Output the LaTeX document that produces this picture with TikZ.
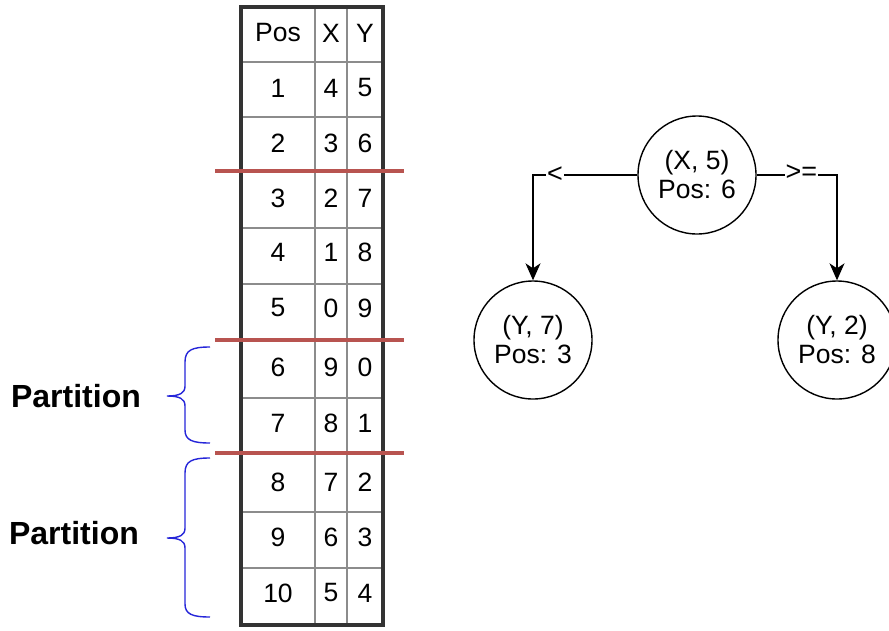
\documentclass[tikz,border=0pt]{standalone}
\usepackage{fontspec}
\setmainfont{Liberation Sans}
\usetikzlibrary{arrows.meta}
\definecolor{redline}{HTML}{B85450}
\definecolor{bracecol}{rgb}{0.15,0.15,0.85}
\definecolor{outerc}{HTML}{333333}
\definecolor{innerc}{HTML}{8C8C8C}
\begin{document}
\begin{tikzpicture}[x=1pt,y=-1pt,
  cell/.style={font=\fontsize{26.5}{26.5}\selectfont, inner sep=0pt},
  tnode/.style={circle, draw, line width=1.4pt, minimum size=118pt, inner sep=0pt, align=center, font=\fontsize{26.5}{29}\selectfont},
  edge/.style={line width=1.3pt, -{Stealth[length=17pt,width=15pt,inset=5pt]}},
  elabel/.style={fill=white, inner sep=1pt, font=\fontsize{27}{27}\selectfont},
  sepline/.style={redline, line width=4pt},
  bracep/.style={bracecol, line width=1.4pt},
  part/.style={font=\bfseries\fontsize{32}{32}\selectfont, inner sep=0pt}]
\useasboundingbox (0,0) rectangle (889,630);
\fill[white] (0,0) rectangle (889,630);
% table inner grid
\foreach \yy in {62,117,172,228,284,340,398,453,512,568}
  \draw[innerc, line width=2pt] (241,\yy) -- (383,\yy);
\foreach \xx in {315,347}
  \draw[innerc, line width=2pt] (\xx,7) -- (\xx,625);
\draw[outerc, line width=3.5pt] (241,7) rectangle (383,625);
% cells
\foreach \r/\yy/\p/\a/\b in {0/33/Pos/X/Y, 1/88/1/4/5, 2/143/2/3/6, 3/198/3/2/7, 4/252/4/1/8, 5/308/5/0/9, 6/367/6/9/0, 7/423/7/8/1, 8/482/8/7/2, 9/537/9/6/3, 10/593/10/5/4}{
  \node[cell] (p\r) at (278,\yy) {\p};
  \node[cell] (x\r) at (331,\yy) {\a};
  \node[cell] (y\r) at (365,\yy) {\b};
}
% partition separators
\foreach \yy in {171,340,453}
  \draw[sepline] (215,\yy) -- (404,\yy);
% braces
\draw[bracep] (210,347) .. controls (192,347) and (185,350) .. (185,362) -- (185,386)
  .. controls (185,393) and (180,396) .. (167,396)
  .. controls (180,396) and (185,399) .. (185,406) -- (185,430)
  .. controls (185,440) and (192,443) .. (210,443);
\draw[bracep] (210,458) .. controls (192,458) and (185,461) .. (185,473) -- (185,528)
  .. controls (185,535) and (180,538) .. (167,538)
  .. controls (180,538) and (185,541) .. (185,548) -- (185,604)
  .. controls (185,614) and (192,617) .. (210,617);
\node[part] (part1) at (76,396) {Partition};
\node[part] (part2) at (74,533) {Partition};
% tree
\node[tnode] (root) at (697,175) {(X, 5)\\Pos: 6};
\node[tnode] (left) at (533,340) {(Y, 7)\\Pos: 3};
\node[tnode] (right) at (837,340) {(Y, 2)\\Pos: 8};
\draw[edge] (root.west) -| node[elabel, pos=0.395] {<} (left.north);
\draw[edge] (root.east) -| node[elabel, pos=0.278, yshift=2pt] {>=} (right.north);
\end{tikzpicture}
\end{document}
